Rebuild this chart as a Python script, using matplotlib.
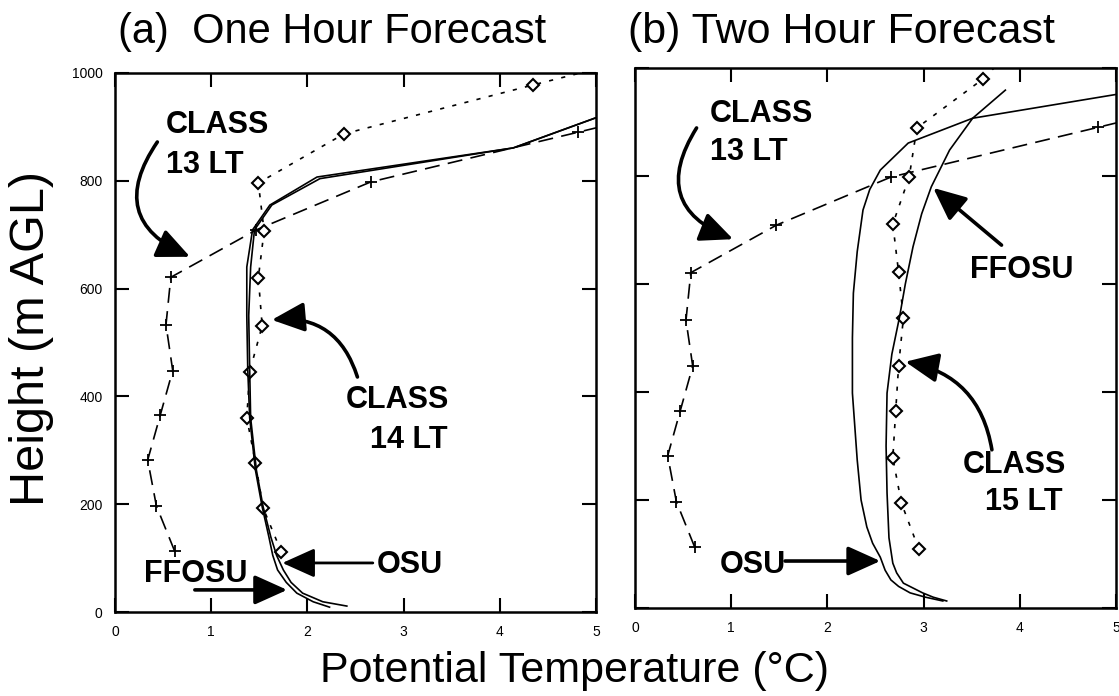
import matplotlib
matplotlib.use("Agg")
import matplotlib.pyplot as plt

# ---------------- data ----------------
# CLASS 13 LT sounding (same in both panels)
class13_height = [113, 197, 282, 365, 448, 533, 621, 709, 798, 890, 980]
class13_theta = [0.62, 0.43, 0.34, 0.47, 0.60, 0.53, 0.58, 1.47, 2.66, 4.81, 6.90]

# CLASS 14 LT sounding (panel a)
class14_height = [111, 193, 277, 360, 446, 531, 620, 707, 796, 887, 978, 1030]
class14_theta = [1.73, 1.54, 1.46, 1.37, 1.40, 1.53, 1.49, 1.55, 1.49, 2.38, 4.35, 5.50]

# CLASS 15 LT sounding (panel b)
class15_height = [109, 194, 278, 365, 448, 537, 622, 711, 798, 889, 980, 1030]
class15_theta = [2.95, 2.77, 2.68, 2.71, 2.74, 2.79, 2.74, 2.68, 2.85, 2.93, 3.62, 3.90]

# One hour forecasts (panel a)
ffosu_a_height = [9, 19, 35, 55, 78, 105, 139, 195, 263, 360, 450, 550, 640, 709, 755, 807, 861, 917]
ffosu_a_theta = [2.23, 2.06, 1.89, 1.78, 1.69, 1.64, 1.60, 1.53, 1.46, 1.40, 1.38, 1.37, 1.37, 1.43, 1.61, 2.10, 4.14, 5.00]
osu_a_height = [11, 19, 35, 55, 78, 105, 139, 195, 263, 360, 450, 550, 640, 709, 755, 804, 861, 917]
osu_a_theta = [2.41, 2.16, 1.95, 1.83, 1.75, 1.68, 1.62, 1.54, 1.47, 1.41, 1.40, 1.39, 1.41, 1.45, 1.63, 2.13, 4.14, 5.00]

# Two hour forecasts (panel b)
osu_b_height = [13, 20, 28, 40, 52, 70, 94, 120, 150, 200, 274, 398, 500, 583, 660, 737, 775, 811, 861, 907, 951]
osu_b_theta = [3.20, 3.02, 2.86, 2.74, 2.66, 2.60, 2.55, 2.47, 2.41, 2.35, 2.31, 2.26, 2.26, 2.27, 2.31, 2.37, 2.44, 2.55, 2.84, 3.51, 5.00]
ffosu_b_height = [13, 20, 28, 46, 65, 83, 130, 213, 300, 398, 470, 539, 600, 669, 730, 780, 848, 907, 959]
ffosu_b_theta = [3.24, 3.10, 2.99, 2.79, 2.72, 2.68, 2.64, 2.62, 2.61, 2.62, 2.67, 2.75, 2.81, 2.89, 2.98, 3.08, 3.27, 3.51, 3.85]

x_ticks = [0, 1, 2, 3, 4, 5]
y_ticks = [0, 200, 400, 600, 800, 1000]

# ---------------- style ----------------
plt.rcParams['font.family'] = ['Liberation Sans', 'DejaVu Sans']
FAM = ['Liberation Sans', 'DejaVu Sans']

fig = plt.figure(figsize=(11.19, 6.96), dpi=100)
fig.patch.set_facecolor('white')

W, H = 1119.0, 696.0
ax_a = fig.add_axes([115 / W, (H - 612) / H, 481 / W, 539 / H])
ax_b = fig.add_axes([635 / W, (H - 608) / H, 481 / W, 540 / H])

LW = 1.2
dash13 = (0, (9, 5))
dot14 = (0, (2.5, 5))


def style_axes(ax, show_ylabels):
    ax.set_xlim(0, 5)
    ax.set_ylim(0, 1000)
    ax.set_xticks(x_ticks)
    ax.set_yticks(y_ticks)
    ax.set_xticklabels([str(v) for v in x_ticks])
    ax.tick_params(direction='in', length=10, width=1.5, top=True, right=True,
                   labelsize=10, pad=9)
    if not show_ylabels:
        ax.set_yticklabels([])
    for s in ax.spines.values():
        s.set_linewidth(1.8)


def class13(ax):
    ax.plot(class13_theta, class13_height, color='black', lw=LW, linestyle=dash13,
            marker='+', ms=9, mew=1.3)


def arrow(ax, start, tip, rad=0.0, lw=2.6):
    ax.annotate('', xy=tip, xytext=start, xycoords='data', textcoords='data',
                arrowprops=dict(arrowstyle='-|>,head_length=1.0,head_width=0.45',
                                connectionstyle='arc3,rad=%g' % rad,
                                color='black', lw=lw, mutation_scale=20,
                                shrinkA=0, shrinkB=0))


def label(ax, x, y, s, ha='left'):
    ax.text(x, y, s, ha=ha, va='baseline', fontsize=22, fontweight='bold',
            family=FAM)


# ---------------- panel (a) ----------------
style_axes(ax_a, True)
class13(ax_a)
ax_a.plot(class14_theta, class14_height, color='black', lw=LW, linestyle=dot14,
          marker='D', ms=6, mfc='white', mew=1.5)
ax_a.plot(ffosu_a_theta, ffosu_a_height, color='black', lw=LW)
ax_a.plot(osu_a_theta, osu_a_height, color='black', lw=LW)

label(ax_a, 0.53, 889, 'CLASS')
label(ax_a, 0.53, 814, '13 LT')
arrow(ax_a, (0.44, 872), (0.78, 659), rad=0.6)

label(ax_a, 3.47, 378, 'CLASS', ha='right')
label(ax_a, 3.46, 304, '14 LT', ha='right')
arrow(ax_a, (2.52, 436), (1.63, 542), rad=0.4)

label(ax_a, 0.30, 56, 'FFOSU')
arrow(ax_a, (0.83, 41), (1.79, 41))
label(ax_a, 2.72, 72, 'OSU')
arrow(ax_a, (2.68, 91), (1.74, 91), lw=2.0)

# ---------------- panel (b) ----------------
style_axes(ax_b, False)
class13(ax_b)
ax_b.plot(class15_theta, class15_height, color='black', lw=LW, linestyle=dot14,
          marker='D', ms=6, mfc='white', mew=1.5)
ax_b.plot(osu_b_theta, osu_b_height, color='black', lw=LW)
ax_b.plot(ffosu_b_theta, ffosu_b_height, color='black', lw=LW)

label(ax_b, 0.78, 900, 'CLASS')
label(ax_b, 0.78, 830, '13 LT')
arrow(ax_b, (0.64, 889), (1.02, 683), rad=0.6)

label(ax_b, 3.48, 611, 'FFOSU')
arrow(ax_b, (3.81, 672), (3.10, 778))

label(ax_b, 4.48, 250, 'CLASS', ha='right')
label(ax_b, 4.45, 181, '15 LT', ha='right')
arrow(ax_b, (3.71, 293), (2.81, 456), rad=0.35)

label(ax_b, 0.88, 65, 'OSU')
arrow(ax_b, (1.56, 87), (2.55, 87))

# ---------------- titles & axis labels ----------------
fig.text(118 / W, (H - 43) / H, '(a)  One Hour Forecast', fontsize=30,
         family=FAM, ha='left', va='baseline')
fig.text(628 / W, (H - 43) / H, '(b) Two Hour Forecast', fontsize=31,
         family=FAM, ha='left', va='baseline')
fig.text(32 / W, (H - 338) / H, 'Height (m AGL)', fontsize=35, family=FAM,
         rotation=90, ha='center', va='center')
fig.text(575 / W, (H - 682) / H, 'Potential Temperature (°C)', fontsize=31,
         family=FAM, ha='center', va='baseline')

fig.savefig('out.png', dpi=100, facecolor='white')
